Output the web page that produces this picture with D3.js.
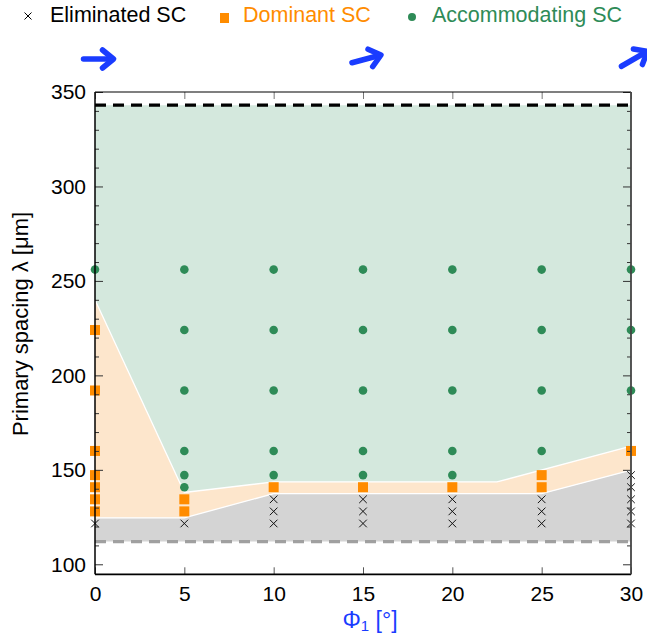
<!DOCTYPE html>
<html>
<head>
<meta charset="utf-8">
<script src="https://cdn.jsdelivr.net/npm/d3@7"></script>
<style>
  html, body { margin: 0; padding: 0; background: #fff; }
  svg { display: block; font-family: "Liberation Sans", Arial, Helvetica, sans-serif; }
</style>
</head>
<body>
<div id="chart"></div>
<script>
// ---- data ----
const phiTicks = [0, 5, 10, 15, 20, 25, 30];
const lambdaTicks = [100, 150, 200, 250, 300, 350];
const arrowPhis = [0, 15, 30];

const eliminated = [
  [0, 121.6], [5, 121.6],
  [10, 121.6], [10, 128], [10, 134.4],
  [15, 121.6], [15, 128], [15, 134.4],
  [20, 121.6], [20, 128], [20, 134.4],
  [25, 121.6], [25, 128], [25, 134.4],
  [30, 121.6], [30, 128], [30, 134.4], [30, 140.8], [30, 147.2]
];
const dominant = [
  [0, 128], [0, 134.4], [0, 140.8], [0, 147.2], [0, 160], [0, 192], [0, 224],
  [5, 128], [5, 134.4],
  [10, 140.8], [15, 140.8], [20, 140.8],
  [25, 140.8], [25, 147.2],
  [30, 160]
];
const accommodating = [
  [0, 256],
  [5, 140.8], [5, 147.2], [5, 160], [5, 192], [5, 224], [5, 256],
  [10, 147.2], [10, 160], [10, 192], [10, 224], [10, 256],
  [15, 147.2], [15, 160], [15, 192], [15, 224], [15, 256],
  [20, 147.2], [20, 160], [20, 192], [20, 224], [20, 256],
  [25, 160], [25, 192], [25, 224], [25, 256],
  [30, 192], [30, 224], [30, 256]
];
// region boundaries
const upperBoundary = [[0, 240], [5, 138], [10, 143.6], [22.5, 143.6], [30, 162.5]];
const lowerBoundary = [[0, 124.6], [5, 124.6], [10, 137.4], [25, 137.4], [30, 149.8]];
const maxSpacing = 343;
const minSpacing = 112;

// ---- layout ----
const W = 647, H = 636;
const svg = d3.select("#chart").append("svg").attr("width", W).attr("height", H);

const x = d3.scaleLinear().domain([0, 30]).range([95, 631]);
const y = d3.scaleLinear().domain([94.7, 350]).range([574.3, 92]);

const colGreenFill = "#d4e8dd", colOrangeFill = "#fde6cc", colGrayFill = "#d4d4d4";
const colGreen = "#2e8b57", colOrange = "#ff8c00", colBlue = "#1a3cff";

// regions
svg.append("path")
  .datum(upperBoundary)
  .attr("d", d3.area().x(d => x(d[0])).y0(y(maxSpacing)).y1(d => y(d[1])))
  .attr("fill", colGreenFill);
const orangePoly = upperBoundary.concat(lowerBoundary.slice().reverse());
svg.append("path")
  .attr("d", d3.line().x(d => x(d[0])).y(d => y(d[1]))(orangePoly) + "Z")
  .attr("fill", colOrangeFill);
svg.append("path")
  .datum(lowerBoundary)
  .attr("d", d3.area().x(d => x(d[0])).y0(y(minSpacing)).y1(d => y(d[1])))
  .attr("fill", colGrayFill);
// white boundary lines
const bline = d3.line().x(d => x(d[0])).y(d => y(d[1]));
[upperBoundary, lowerBoundary].forEach(b => {
  svg.append("path").attr("d", bline(b)).attr("fill", "none")
    .attr("stroke", "#fff").attr("stroke-width", 1.3);
});

// dashed lines
svg.append("line").attr("x1", x(0)).attr("x2", x(30))
  .attr("y1", y(maxSpacing)).attr("y2", y(maxSpacing))
  .attr("stroke", "#000").attr("stroke-width", 3.2).attr("stroke-dasharray", "11,7");
svg.append("line").attr("x1", x(0)).attr("x2", x(30))
  .attr("y1", y(minSpacing)).attr("y2", y(minSpacing))
  .attr("stroke", "#a0a0a0").attr("stroke-width", 3.2).attr("stroke-dasharray", "11,7");

// markers
svg.append("g").selectAll("circle").data(accommodating).join("circle")
  .attr("cx", d => x(d[0])).attr("cy", d => y(d[1])).attr("r", 4.3)
  .attr("fill", colGreen);
svg.append("g").selectAll("rect").data(dominant).join("rect")
  .attr("x", d => x(d[0]) - 5).attr("y", d => y(d[1]) - 5)
  .attr("width", 10).attr("height", 10).attr("fill", colOrange);
const cr = 3.8;
svg.append("g").selectAll("path").data(eliminated).join("path")
  .attr("d", d => {
    const cx = x(d[0]), cy = y(d[1]);
    return `M${cx - cr},${cy - cr}L${cx + cr},${cy + cr}M${cx - cr},${cy + cr}L${cx + cr},${cy - cr}`;
  })
  .attr("stroke", "#111").attr("stroke-width", 1).attr("fill", "none");

// axes
const yMinor = d3.range(100, 351, 10);
const gAx = svg.append("g");
const yLeft = d3.axisRight(y).tickValues(yMinor).tickSize(4).tickFormat("");
gAx.append("g").attr("transform", `translate(${x(0)},0)`).call(yLeft)
  .call(g => g.select(".domain").remove())
  .call(g => g.selectAll(".tick line").attr("x2", d => d % 50 === 0 ? 8 : 4).attr("stroke", "#333"));
const yRight = d3.axisLeft(y).tickValues(yMinor).tickSize(4).tickFormat("");
gAx.append("g").attr("transform", `translate(${x(30)},0)`).call(yRight)
  .call(g => g.select(".domain").remove())
  .call(g => g.selectAll(".tick line").attr("x2", d => d % 50 === 0 ? -8 : -4).attr("stroke", "#333"));
const yLab = d3.axisLeft(y).tickValues(lambdaTicks).tickSize(0).tickPadding(9).tickFormat(d3.format("d"));
gAx.append("g").attr("transform", `translate(${x(0)},0)`).call(yLab)
  .call(g => g.select(".domain").remove())
  .call(g => g.selectAll("text").attr("font-size", 21).attr("fill", "#000")
    .attr("font-family", "Liberation Sans, Arial, sans-serif"));
const xB = d3.axisTop(x).tickValues(phiTicks).tickSize(7).tickFormat("");
gAx.append("g").attr("transform", `translate(0,${y.range()[0]})`).call(xB)
  .call(g => g.select(".domain").remove())
  .call(g => g.selectAll(".tick line").attr("stroke", "#555"));
const xLab = d3.axisBottom(x).tickValues(phiTicks).tickSize(0).tickPadding(12).tickFormat(d3.format("d"));
gAx.append("g").attr("transform", `translate(0,${y.range()[0]})`).call(xLab)
  .call(g => g.select(".domain").remove())
  .call(g => g.selectAll("text").attr("font-size", 21).attr("fill", "#000")
    .attr("font-family", "Liberation Sans, Arial, sans-serif"));
const xT = d3.axisBottom(x).tickValues(phiTicks).tickSize(7).tickFormat("");
gAx.append("g").attr("transform", `translate(0,${y.range()[1]})`).call(xT)
  .call(g => g.select(".domain").remove())
  .call(g => g.selectAll(".tick line").attr("stroke", "#777"));
// frame
const x0 = x(0), x1 = x(30), yT = y.range()[1], yB = y.range()[0];
svg.append("line").attr("x1", x0).attr("x2", x1).attr("y1", yT).attr("y2", yT).attr("stroke", "#000").attr("stroke-width", 1.2);
svg.append("line").attr("x1", x0).attr("x2", x1).attr("y1", yB).attr("y2", yB).attr("stroke", "#000").attr("stroke-width", 1.8);
svg.append("line").attr("x1", x0).attr("x2", x0).attr("y1", yT).attr("y2", yB).attr("stroke", "#000").attr("stroke-width", 1.5);
svg.append("line").attr("x1", x1).attr("x2", x1).attr("y1", yT).attr("y2", yB).attr("stroke", "#444").attr("stroke-width", 1.8);

// axis titles
svg.append("text")
  .attr("transform", `translate(28,324) rotate(-90)`)
  .attr("text-anchor", "middle").attr("font-size", 22).attr("fill", "#000")
  .text("Primary spacing λ [μm]");
const xt = svg.append("text").attr("x", x(15) + 7).attr("y", 628)
  .attr("text-anchor", "middle").attr("font-size", 23).attr("fill", colBlue);
xt.append("tspan").text("Φ");
xt.append("tspan").attr("font-size", 15).attr("dy", 3).text("1");
xt.append("tspan").attr("dy", -3).text(" [°]");

// orientation arrows
const arrowY = 59, arrowLen = 31;
arrowPhis.forEach(p => {
  const g = svg.append("g")
    .attr("transform", `translate(${x(p) + 3},${arrowY}) rotate(${-p})`);
  g.append("line").attr("x1", -arrowLen / 2 + 1).attr("x2", arrowLen / 2 - 2).attr("y1", 0).attr("y2", 0)
    .attr("stroke", colBlue).attr("stroke-width", 5.5).attr("stroke-linecap", "round");
  g.append("path")
    .attr("d", `M${arrowLen / 2 - 11},-9L${arrowLen / 2},0L${arrowLen / 2 - 11},9`)
    .attr("fill", "none").attr("stroke", colBlue).attr("stroke-width", 5.5)
    .attr("stroke-linecap", "round").attr("stroke-linejoin", "round");
});

// legend
const legY = 14;
const lg = svg.append("g");
lg.append("path")
  .attr("d", `M${28 - 3.5},${legY + 2 - 3.5}L${28 + 3.5},${legY + 2 + 3.5}M${28 - 3.5},${legY + 2 + 3.5}L${28 + 3.5},${legY + 2 - 3.5}`)
  .attr("stroke", "#000").attr("stroke-width", 1);
lg.append("text").attr("x", 50).attr("y", legY + 8).attr("font-size", 21.5).attr("fill", "#000").text("Eliminated SC");
lg.append("rect").attr("x", 220).attr("y", legY - 1).attr("width", 9).attr("height", 10).attr("fill", colOrange);
lg.append("text").attr("x", 243).attr("y", legY + 8).attr("font-size", 21.5).attr("fill", colOrange).text("Dominant SC");
lg.append("circle").attr("cx", 412).attr("cy", legY + 3).attr("r", 4).attr("fill", colGreen);
lg.append("text").attr("x", 432).attr("y", legY + 8).attr("font-size", 21.5).attr("fill", colGreen).text("Accommodating SC");
</script>
</body>
</html>
